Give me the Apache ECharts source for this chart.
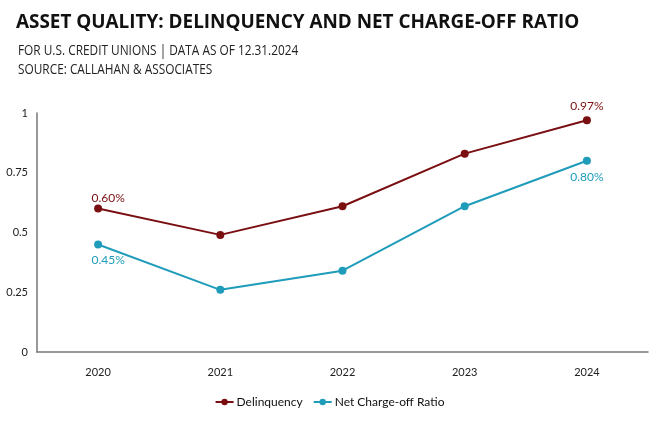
<!DOCTYPE html>
<html><head><meta charset="utf-8">
<script src="https://cdn.jsdelivr.net/npm/echarts@6/dist/echarts.min.js"></script>
<style>html,body{margin:0;padding:0;background:#fff}#c{width:659px;height:424px}</style>
</head><body><div id="c"></div>
<script>
const categories = ['2020','2021','2022','2023','2024'];
const delinquency = [0.60, 0.49, 0.61, 0.83, 0.97];
const netChargeOff = [0.45, 0.26, 0.34, 0.61, 0.80];
const yTicks = [0, 0.25, 0.5, 0.75, 1];

const RED = '#7a0f12', TEAL = '#1f9cba';
function build(values, color, pos, firstOffset, lastOffset){
  return values.map(function(v, i){
    const last = values.length - 1;
    if (i === 0 || i === last) {
      return {value: v, label: {show: true, position: pos, offset: i === 0 ? firstOffset : lastOffset,
        formatter: v.toFixed(2) + '%', color: color, fontFamily: 'Lato', fontSize: 12}};
    }
    return {value: v};
  });
}
const chart = echarts.init(document.getElementById('c'));
chart.setOption({
  animation:false,
  title:[
    {text:'ASSET QUALITY: DELINQUENCY AND NET CHARGE-OFF RATIO', left:16, top:13, padding:0,
     textStyle:{fontFamily:'Open Sans', fontWeight:'bold', fontSize:18.9, color:'#111'}}
  ],
  graphic:[
    {type:'text', x:18, y:43, scaleX:0.79, style:{text:'FOR U.S. CREDIT UNIONS | DATA AS OF 12.31.2024',
      font:'15px "Open Sans"', fill:'#222', verticalAlign:'top'}},
    {type:'text', x:18, y:62, scaleX:0.79, style:{text:'SOURCE: CALLAHAN & ASSOCIATES',
      font:'15px "Open Sans"', fill:'#222', verticalAlign:'top'}}
  ],
  grid:{left:37, right:11, top:113, bottom:72},
  legend:{bottom:11, left:'center', itemWidth:18, itemHeight:8, itemGap:10,
    textStyle:{fontFamily:'Lato', fontSize:12, color:'#111', padding:[0,0,0,-2]},
    data:['Delinquency','Net Charge-off Ratio']},
  xAxis:{type:'category', data:categories, boundaryGap:true,
    axisLine:{lineStyle:{color:'#777', width:1.5}}, axisTick:{show:false},
    axisLabel:{fontFamily:'Lato', fontSize:11, color:'#222', margin:15}},
  yAxis:{type:'value', min:0, max:1, interval:0.25,
    axisLine:{show:true, lineStyle:{color:'#777', width:1.5}}, axisTick:{show:false},
    splitLine:{show:false},
    axisLabel:{fontFamily:'Lato', fontSize:11, color:'#222', margin:9,
      formatter:function(v){ return yTicks.indexOf(v)>=0 ? String(v) : ''; }}},
  series:[
    {name:'Delinquency', type:'line', data:build(delinquency, RED, 'top', [10,4], [0,0]), symbol:'circle', symbolSize:8,
     itemStyle:{color:RED}, lineStyle:{color:RED, width:2},
     label:{show:false, distance:4}},
    {name:'Net Charge-off Ratio', type:'line', data:build(netChargeOff, TEAL, 'bottom', [10,0], [0,0]), symbol:'circle', symbolSize:8,
     itemStyle:{color:TEAL}, lineStyle:{color:TEAL, width:2},
     label:{show:false, distance:6}}
  ]
});
</script></body></html>
